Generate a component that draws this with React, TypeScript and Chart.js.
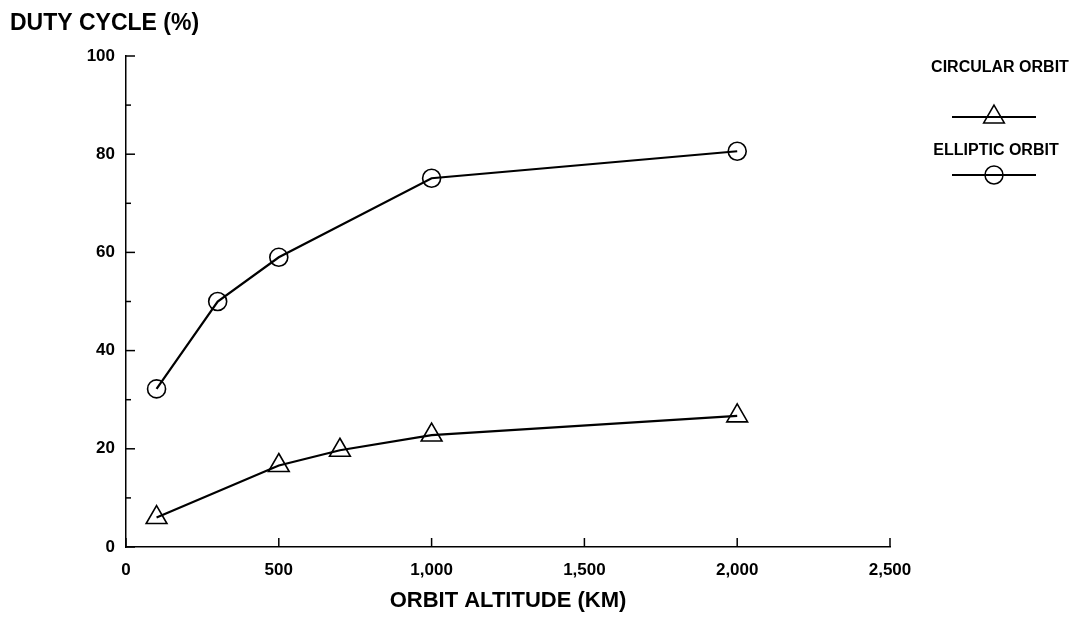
import React, { useEffect, useRef } from "react";
import { Chart, registerables } from "chart.js";

Chart.register(...registerables);

// ---- data ----
const circularAltitude = [100, 500, 700, 1000, 2000];
const circularDuty = [6.0, 16.6, 19.7, 22.8, 26.7];
const ellipticAltitude = [100, 300, 500, 1000, 2000];
const ellipticDuty = [32.2, 50.0, 59.0, 75.1, 80.6];

const xTickValues = [0, 500, 1000, 1500, 2000, 2500];
const yTickValues = [0, 20, 40, 60, 80, 100];
const yMinorTickValues = [10, 30, 50, 70, 90];

const seriesNames = ["CIRCULAR ORBIT", "ELLIPTIC ORBIT"];
const yTitle = "DUTY CYCLE (%)";
const xTitle = "ORBIT ALTITUDE (KM)";

const FONT = "'Liberation Sans', Arial, Helvetica, sans-serif";

function drawTriangle(ctx: CanvasRenderingContext2D, x: number, y: number, r: number) {
  ctx.beginPath();
  ctx.moveTo(x, y - r);
  ctx.lineTo(x + r * Math.sin(Math.PI / 3), y + r / 2);
  ctx.lineTo(x - r * Math.sin(Math.PI / 3), y + r / 2);
  ctx.closePath();
  ctx.stroke();
}

const decorPlugin = {
  id: "decor",
  afterDraw(chart: any) {
    const ctx: CanvasRenderingContext2D = chart.ctx;
    const xs = chart.scales.x;
    const ys = chart.scales.y;
    const { left, bottom } = chart.chartArea;
    ctx.save();
    ctx.strokeStyle = "#000";
    ctx.lineWidth = 1.5;
    // inward ticks
    for (const v of yTickValues) {
      const py = ys.getPixelForValue(v);
      ctx.beginPath();
      ctx.moveTo(left, py);
      ctx.lineTo(left + 9, py);
      ctx.stroke();
    }
    for (const v of yMinorTickValues) {
      const py = ys.getPixelForValue(v);
      ctx.beginPath();
      ctx.moveTo(left, py);
      ctx.lineTo(left + 5, py);
      ctx.stroke();
    }
    for (const v of xTickValues) {
      const px = xs.getPixelForValue(v);
      ctx.beginPath();
      ctx.moveTo(px, bottom);
      ctx.lineTo(px, bottom - 9);
      ctx.stroke();
    }
    // y title
    ctx.fillStyle = "#000";
    ctx.font = `bold 23px ${FONT}`;
    ctx.textAlign = "left";
    ctx.textBaseline = "middle";
    ctx.fillText(yTitle, 10, 24);

    // legend
    ctx.font = `bold 16px ${FONT}`;
    ctx.textAlign = "center";
    ctx.fillText(seriesNames[0], 1000, 68);
    ctx.fillText(seriesNames[1], 996, 151);
    ctx.lineWidth = 1.8;
    ctx.beginPath();
    ctx.moveTo(952, 117);
    ctx.lineTo(1036, 117);
    ctx.stroke();
    ctx.beginPath();
    ctx.moveTo(952, 175);
    ctx.lineTo(1036, 175);
    ctx.stroke();
    ctx.lineWidth = 1.5;
    drawTriangle(ctx, 994, 117, 12);
    ctx.beginPath();
    ctx.arc(994, 175, 9, 0, Math.PI * 2);
    ctx.stroke();
    ctx.restore();
  },
};

export default function App() {
  const ref = useRef<HTMLCanvasElement | null>(null);
  useEffect(() => {
    if (!ref.current) return;
    const chart = new Chart(ref.current, {
      type: "line",
      data: {
        datasets: [
          {
            label: seriesNames[0],
            data: circularAltitude.map((x, i) => ({ x, y: circularDuty[i] })),
            borderColor: "#000",
            borderWidth: 2.2,
            pointStyle: "triangle",
            pointRadius: 12,
            pointBorderWidth: 1.6,
            pointBorderColor: "#000",
            pointBackgroundColor: "rgba(0,0,0,0)",
            tension: 0,
          },
          {
            label: seriesNames[1],
            data: ellipticAltitude.map((x, i) => ({ x, y: ellipticDuty[i] })),
            borderColor: "#000",
            borderWidth: 2.2,
            pointStyle: "circle",
            pointRadius: 9,
            pointBorderWidth: 1.6,
            pointBorderColor: "#000",
            pointBackgroundColor: "rgba(0,0,0,0)",
            tension: 0,
          },
        ],
      },
      options: {
        responsive: false,
        animation: false,
        devicePixelRatio: 1,
        layout: { padding: { left: 0, right: 182, top: 56, bottom: 0 } },
        plugins: { legend: { display: false }, tooltip: { enabled: false }, title: { display: false } },
        scales: {
          x: {
            type: "linear",
            min: 0,
            max: 2500,
            afterBuildTicks: (s: any) => {
              s.ticks = xTickValues.map((v) => ({ value: v }));
            },
            afterFit: (s: any) => {
              s.height = 75;
            },
            grid: { display: false, drawTicks: false },
            border: { display: true, color: "#000", width: 1.5 },
            ticks: {
              color: "#000",
              padding: 13,
              maxRotation: 0,
              font: { family: FONT, size: 17, weight: "bold" },
              callback: (v: any) => Number(v).toLocaleString("en-US"),
            },
            title: {
              display: true,
              text: xTitle,
              color: "#000",
              font: { family: FONT, size: 22, weight: "bold" },
              padding: { top: 0, bottom: 8 },
            },
          },
          y: {
            type: "linear",
            min: 0,
            max: 100,
            afterBuildTicks: (s: any) => {
              s.ticks = yTickValues.map((v) => ({ value: v }));
            },
            afterFit: (s: any) => {
              s.width = 126;
            },
            grid: { display: false, drawTicks: false },
            border: { display: true, color: "#000", width: 1.5 },
            ticks: {
              color: "#000",
              padding: 11,
              font: { family: FONT, size: 17, weight: "bold" },
            },
          },
        },
      },
      plugins: [decorPlugin],
    } as any);
    return () => chart.destroy();
  }, []);
  return (
    <div style={{ position: "absolute", left: 0, top: 0, width: 1072, height: 622, background: "#fff" }}>
      <canvas ref={ref} width={1072} height={622} />
    </div>
  );
}
